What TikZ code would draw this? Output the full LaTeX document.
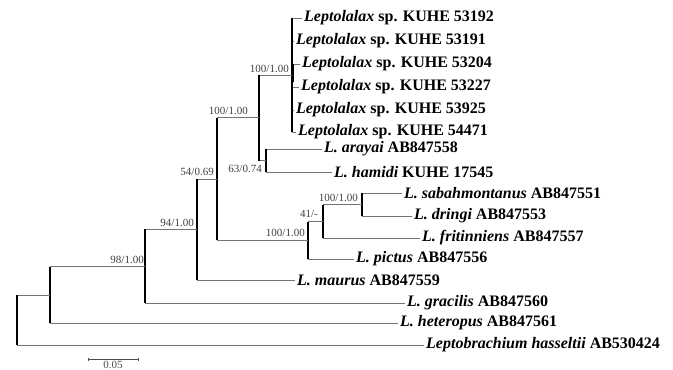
\documentclass[tikz,border=0pt]{standalone}
\usepackage{fontspec}
\setmainfont{Liberation Serif}
\usetikzlibrary{positioning}
\newcommand{\clade}[3]{%
  \draw[hbr] (#1 |- #2) -- (#2);
  \draw[hbr] (#1 |- #3) -- (#3);
  \draw[vbr] (#1 |- #2) -- (#1 |- #3);}

\begin{document}
\begin{tikzpicture}[x=1pt, y=-1pt,
    hbr/.style={draw=black!55, line width=0.7pt},
    vbr/.style={draw=black, line width=1.4pt},
    tip/.style={anchor=west, inner sep=2pt, font=\fontsize{16}{18}\selectfont\bfseries},
    support/.style={anchor=south east, inner sep=1pt, text=black!75, font=\fontsize{11}{12}\selectfont}
  ]
    \useasboundingbox (0,0) rectangle (673,370);
    % internal nodes
    \coordinate (nS) at (292,75);
    \coordinate (nAH) at (266,160.5);
    \coordinate (nSH) at (259,117.5);
    \coordinate (n54) at (217,179);
    \coordinate (nM) at (197,229);
    \coordinate (nG) at (145,266.5);
    \coordinate (nH) at (50,295);
    \coordinate (root) at (17,320);
    \coordinate (nP) at (308,240);
    \coordinate (n41) at (323,221.5);
    \coordinate (nSD) at (362,204.5);
    % Leptolalax sp. clade
    \foreach \id/\y/\e in {53192/18/302, 53191/41/294, 53204/64/300, 53227/87/299, 53925/110/294, 54471/132/296} {
      \coordinate (e\id) at (\e,\y);
      \node[tip] (s\id) at (e\id) {\textit{Leptolalax} sp. KUHE \id};
      \draw[hbr] (nS |- e\id) -- (e\id);
    }
    \draw[vbr] (nS |- e53192) -- (nS |- e54471);
    \draw[line width=3pt, shorten >=5pt] (nS |- e53204) -- (nS |- e53227);
    % other tips
    \node[tip] (ara) at (322,149) {\textit{L. arayai} AB847558};
    \node[tip] (ham) at (332,172) {\textit{L. hamidi} KUHE 17545};
    \node[tip] (sab) at (402,193) {\textit{L. sabahmontanus} AB847551};
    \node[tip] (dri) at (412,216) {\textit{L. dringi} AB847553};
    \node[tip] (fri) at (420,238) {\textit{L. fritinniens} AB847557};
    \node[tip] (pic) at (354,259) {\textit{L. pictus} AB847556};
    \node[tip] (mau) at (295,280) {\textit{L. maurus} AB847559};
    \node[tip] (gra) at (405,303) {\textit{L. gracilis} AB847560};
    \node[tip] (het) at (398,323) {\textit{L. heteropus} AB847561};
    \node[tip] (has) at (424,345) {\textit{Leptobrachium hasseltii} AB530424};
    % branches
    \clade{nAH}{ara.west}{ham.west}
    \clade{nSH}{nS}{nAH}
    \clade{nSD}{sab.west}{dri.west}
    \clade{n41}{nSD}{fri.west}
    \clade{nP}{n41}{pic.west}
    \clade{n54}{nSH}{nP}
    \clade{nM}{n54}{mau.west}
    \clade{nG}{nM}{gra.west}
    \clade{nH}{nG}{het.west}
    \clade{root}{nH}{has.west}
    % support values
    \node[support] (bS) at (290,74) {100/1.00};
    \node[support, anchor=east] (bAH) at (263,169) {63/0.74};
    \node[support] (bSH) at (249,116) {100/1.00};
    \node[support] (b54) at (215,177) {54/0.69};
    \node[support] (bM) at (195,228) {94/1.00};
    \node[support] (bG) at (145,265) {98/1.00};
    \node[support] (bSD) at (359,203) {100/1.00};
    \node[support] (b41) at (319,219) {41/-};
    \node[support] (bP) at (306,238) {100/1.00};
    % scale bar
    \coordinate (sb1) at (88,359);
    \coordinate (sb2) at (138,359);
    \draw[black!70, line width=0.6pt] (sb1) -- (sb2);
    \draw[black!70, line width=1pt] (sb1) ++(0,-1.5) -- ++(0,3) (sb2) ++(0,-1.5) -- ++(0,3);
    \path (sb1) -- (sb2) node[midway, below, inner sep=2pt, text=black!70, font=\fontsize{11}{12}\selectfont] (sbl) {0.05};
  \end{tikzpicture}
\end{document}
